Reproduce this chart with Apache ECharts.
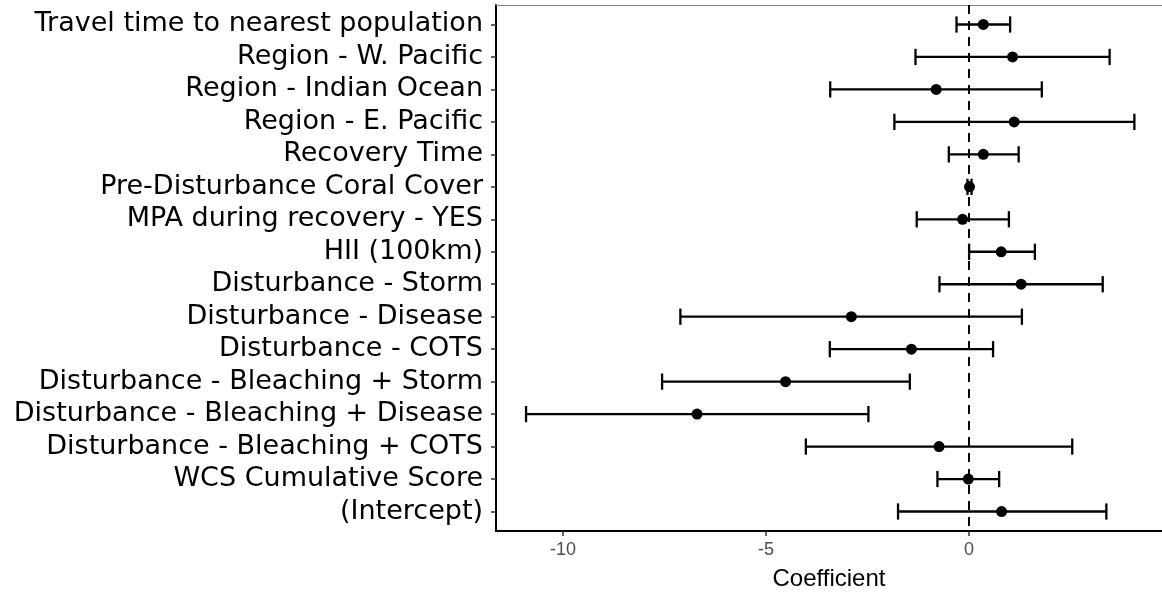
<!DOCTYPE html>
<html>
<head>
<meta charset="utf-8">
<script src="https://cdn.jsdelivr.net/npm/echarts@6/dist/echarts.min.js"></script>
<style>
  html, body { margin: 0; padding: 0; background: #fff; }
  #chart { width: 1162px; height: 596px; }
</style>
</head>
<body>
<div id="chart"></div>
<script>
// Terms, top to bottom
const terms = [
  "Travel time to nearest population",
  "Region - W. Pacific",
  "Region - Indian Ocean",
  "Region - E. Pacific",
  "Recovery Time",
  "Pre-Disturbance Coral Cover",
  "MPA during recovery - YES",
  "HII (100km)",
  "Disturbance - Storm",
  "Disturbance - Disease",
  "Disturbance - COTS",
  "Disturbance - Bleaching + Storm",
  "Disturbance - Bleaching + Disease",
  "Disturbance - Bleaching + COTS",
  "WCS Cumulative Score",
  "(Intercept)"
];
const estimate = [0.35, 1.07, -0.81, 1.11, 0.35, 0.01, -0.16, 0.79, 1.28, -2.90, -1.42, -4.52, -6.70, -0.74, -0.02, 0.80];
const lower    = [-0.31, -1.32, -3.42, -1.84, -0.50, -0.04, -1.29, 0.00, -0.73, -7.11, -3.43, -7.56, -10.91, -4.02, -0.78, -1.75];
const upper    = [1.01, 3.46, 1.79, 4.07, 1.22, 0.06, 0.98, 1.62, 3.29, 1.30, 0.59, -1.46, -2.48, 2.54, 0.74, 3.38];
const xTicks = [-10, -5, 0];

const rowPos = terms.map((_, i) => i + 1);
const barData = terms.map((_, i) => [lower[i], upper[i], rowPos[i]]);
const pointData = terms.map((_, i) => [estimate[i], rowPos[i]]);

const chart = echarts.init(document.getElementById('chart'), null, { renderer: 'canvas' });
const X_MIN = -11.65, X_MAX = 4.75;

chart.setOption({
  animation: false,
  backgroundColor: '#ffffff',
  grid: { left: 496, right: 0, top: 5, bottom: 64, containLabel: false },
  xAxis: [{
    type: 'value', min: X_MIN, max: X_MAX, position: 'bottom',
    name: 'Coefficient', nameLocation: 'middle', nameGap: 36,
    nameTextStyle: { fontFamily: '"Liberation Sans"', fontSize: 24, color: '#000' },
    axisLine: { show: true, onZero: false, lineStyle: { color: '#000', width: 2 } },
    axisTick: { show: true, length: 5, customValues: xTicks, lineStyle: { color: '#333', width: 1.5 } },
    axisLabel: { customValues: xTicks, margin: 10, fontFamily: '"Liberation Sans"', fontSize: 18, color: '#4d4d4d' },
    splitLine: { show: false }
  }, {
    type: 'value', min: X_MIN, max: X_MAX, position: 'top',
    axisLine: { show: true, onZero: false, lineStyle: { color: '#7f7f7f', width: 1.2 } },
    axisTick: { show: false }, axisLabel: { show: false }, splitLine: { show: false }
  }],
  yAxis: {
    type: 'value', min: 0.4, max: 16.6, inverse: true,
    axisLine: { show: true, onZero: false, lineStyle: { color: '#000', width: 2 } },
    axisTick: { show: true, length: 5, customValues: rowPos, lineStyle: { color: '#333', width: 1.5 } },
    axisLabel: {
      customValues: rowPos, margin: 13,
      fontFamily: '"DejaVu Sans"', fontSize: 27, color: '#000',
      formatter: v => terms[Math.round(v) - 1] || ''
    },
    splitLine: { show: false }
  },
  series: [
    {
      type: 'custom',
      z: 3,
      data: barData,
      encode: { x: [0, 1], y: 2 },
      renderItem: function (params, api) {
        const lo = api.coord([api.value(0), api.value(2)]);
        const hi = api.coord([api.value(1), api.value(2)]);
        const half = api.size([0, 0.25])[1];
        const style = { stroke: '#000', lineWidth: 2.3, fill: null };
        return {
          type: 'group',
          children: [
            { type: 'line', shape: { x1: lo[0], y1: lo[1], x2: hi[0], y2: hi[1] }, style },
            { type: 'line', shape: { x1: lo[0], y1: lo[1] - half, x2: lo[0], y2: lo[1] + half }, style },
            { type: 'line', shape: { x1: hi[0], y1: hi[1] - half, x2: hi[0], y2: hi[1] + half }, style }
          ]
        };
      },
      markLine: {
        silent: true, symbol: 'none', z: 2,
        label: { show: false },
        lineStyle: { color: '#000', width: 2, type: [9, 7] },
        data: [{ xAxis: 0 }]
      }
    },
    {
      type: 'scatter',
      z: 4,
      data: pointData,
      symbol: 'circle',
      symbolSize: 11,
      itemStyle: { color: '#000', opacity: 1 }
    }
  ]
});
</script>
</body>
</html>
